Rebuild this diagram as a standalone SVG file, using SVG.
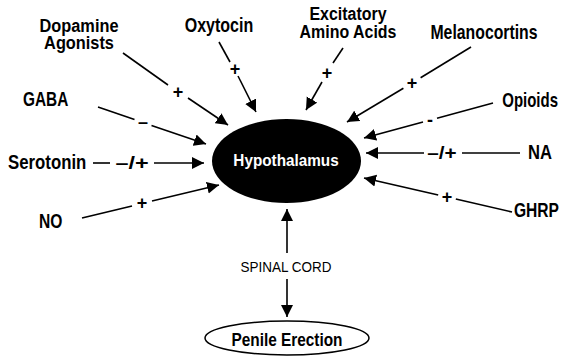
<svg xmlns="http://www.w3.org/2000/svg" width="565" height="356" viewBox="0 0 565 356">
<style>
text{font-family:"Liberation Sans",Arial,sans-serif;fill:#000}
.lbl{font-size:20px;font-weight:bold}
.two{font-size:19px;font-weight:bold;text-anchor:middle}
.sign{font-size:18px;font-weight:bold;text-anchor:middle}
.ln{stroke:#000;stroke-width:1.6;fill:none}
</style>
<defs>
<marker id="ah" markerUnits="userSpaceOnUse" markerWidth="13" markerHeight="13" refX="12" refY="6.5" orient="auto" viewBox="0 0 13 13">
<path d="M0,0.5 L12,6.5 L0,12.5 z" fill="#000"/>
</marker>
</defs>
<rect width="565" height="356" fill="#fff"/>
<g id="connectors">
<line class="ln" x1="123" y1="53" x2="168" y2="85"/><line class="ln" x1="188" y1="98" x2="228" y2="125" marker-end="url(#ah)"/>
<line class="ln" x1="219" y1="42" x2="230" y2="62"/><line class="ln" x1="238" y1="76" x2="256" y2="112" marker-end="url(#ah)"/>
<line class="ln" x1="343" y1="48" x2="333" y2="63"/><line class="ln" x1="322" y1="82" x2="306" y2="110" marker-end="url(#ah)"/>
<line class="ln" x1="471" y1="47" x2="420.6" y2="77.8"/><line class="ln" x1="403.4" y1="88.2" x2="347" y2="122" marker-end="url(#ah)"/>
<line class="ln" x1="493" y1="103" x2="437" y2="118.2"/><line class="ln" x1="423" y1="122" x2="364" y2="138" marker-end="url(#ah)"/>
<line class="ln" x1="520" y1="153" x2="462" y2="153"/><line class="ln" x1="424" y1="153" x2="366" y2="153" marker-end="url(#ah)"/>
<line class="ln" x1="512" y1="212" x2="455.8" y2="199"/><line class="ln" x1="438.2" y1="195" x2="364" y2="178" marker-end="url(#ah)"/>
<line class="ln" x1="93" y1="163" x2="110" y2="163"/><line class="ln" x1="154" y1="163" x2="204" y2="163" marker-end="url(#ah)"/>
<line class="ln" x1="82" y1="218" x2="132" y2="206"/><line class="ln" x1="152" y1="201" x2="219" y2="185" marker-end="url(#ah)"/>
<line class="ln" x1="98" y1="107" x2="134.5" y2="119.6"/><line class="ln" x1="151.5" y1="125.4" x2="206" y2="144" marker-end="url(#ah)"/>
<line class="ln" x1="287" y1="253" x2="287" y2="209" stroke-width="2" marker-end="url(#ah)"/>
<line class="ln" x1="287" y1="279" x2="287" y2="317" stroke-width="2" marker-end="url(#ah)"/>
<text class="sign" x="178" y="98">+</text>
<text class="sign" x="235" y="75">+</text>
<text class="sign" x="327" y="79">+</text>
<text class="sign" x="412" y="89">+</text>
<text class="sign" x="430" y="126">-</text>
<text class="sign" transform="translate(442,159) scale(1.15,1)">–/+</text>
<text class="sign" x="447" y="203">+</text>
<text class="sign" transform="translate(132,169) scale(1.3,1)">–/+</text>
<text class="sign" x="142" y="209">+</text>
<text class="sign" x="143" y="128">–</text>
<text font-size="15" text-anchor="middle" transform="translate(286,272) scale(0.9,1)">SPINAL CORD</text>
</g>
<g id="hypothalamus">
<ellipse cx="286.5" cy="161" rx="74.5" ry="42" fill="#000"/>
<text font-size="17" font-weight="bold" text-anchor="middle" style="fill:#fff" transform="translate(286,166) scale(0.9,1)">Hypothalamus</text>
</g>
<g id="penile-erection">
<ellipse cx="287" cy="338" rx="82" ry="17" fill="#fff" stroke="#000" stroke-width="1.5"/>
<text font-size="19" font-weight="bold" text-anchor="middle" transform="translate(287,346) scale(0.81,1)">Penile Erection</text>
</g>
<g id="dopamine-agonists">
<text class="two" transform="translate(79,32) scale(0.86,1)"><tspan x="0" y="0">Dopamine</tspan><tspan x="0" y="17">Agonists</tspan></text>
</g>
<g id="oxytocin"><text class="lbl" text-anchor="middle" transform="translate(219,32) scale(0.8,1)">Oxytocin</text></g>
<g id="excitatory-amino-acids">
<text class="two" transform="translate(348,20) scale(0.84,1)"><tspan x="0" y="0">Excitatory</tspan><tspan x="0" y="18">Amino Acids</tspan></text>
</g>
<g id="melanocortins"><text class="lbl" text-anchor="middle" transform="translate(484,39) scale(0.79,1)">Melanocortins</text></g>
<g id="opioids"><text class="lbl" text-anchor="end" transform="translate(558,107) scale(0.75,1)">Opioids</text></g>
<g id="na"><text class="lbl" text-anchor="end" transform="translate(552,159) scale(0.83,1)">NA</text></g>
<g id="ghrp"><text class="lbl" text-anchor="end" transform="translate(559,217) scale(0.78,1)">GHRP</text></g>
<g id="gaba"><text class="lbl" transform="translate(23,106) scale(0.77,1)">GABA</text></g>
<g id="serotonin"><text class="lbl" transform="translate(8,169) scale(0.84,1)">Serotonin</text></g>
<g id="no"><text class="lbl" transform="translate(39,228) scale(0.78,1)">NO</text></g>
</svg>
